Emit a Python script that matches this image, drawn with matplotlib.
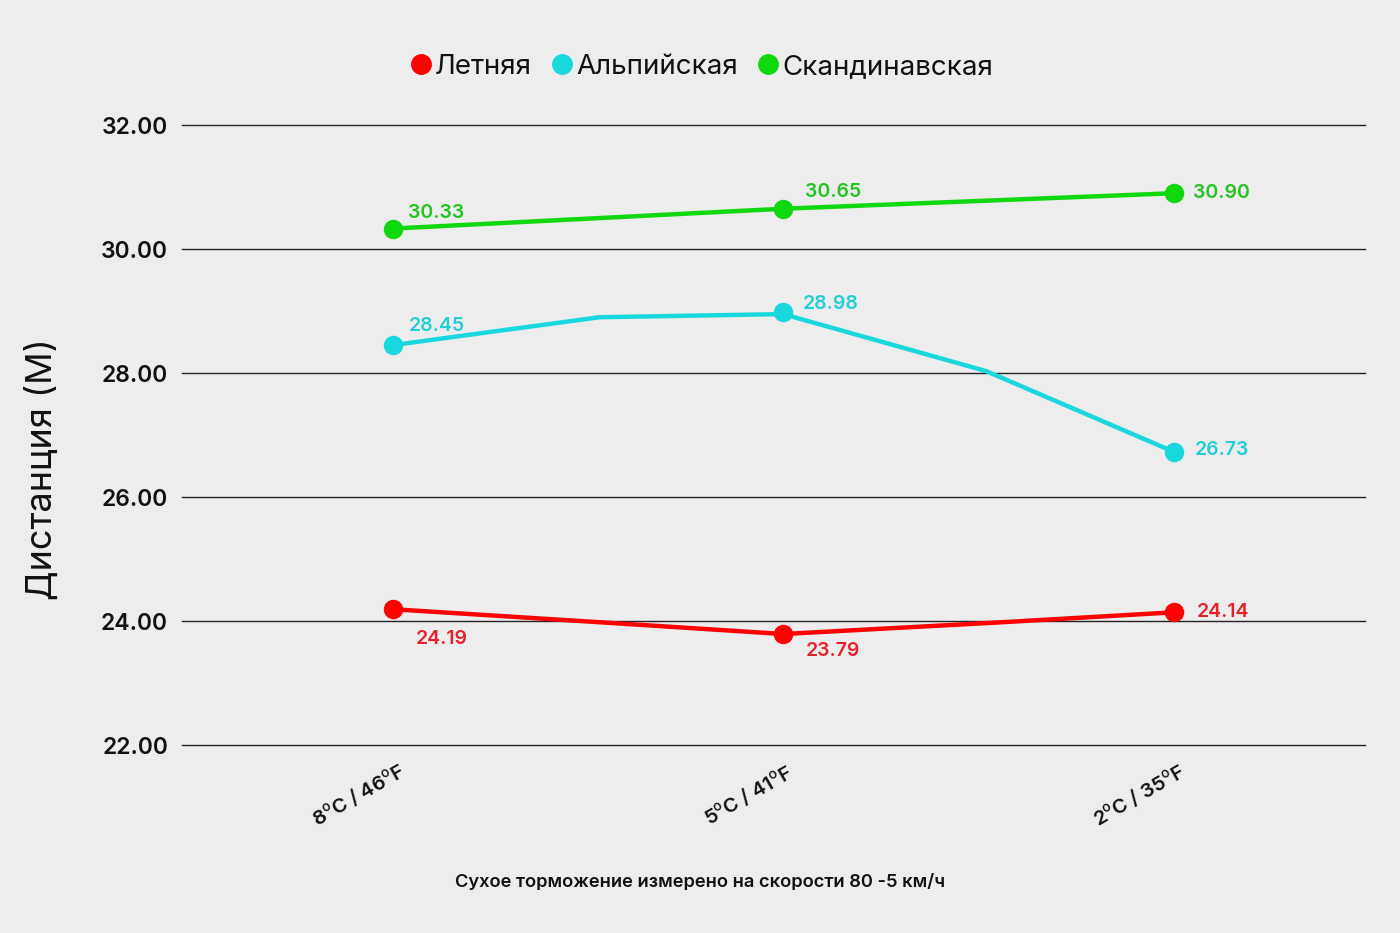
import matplotlib
matplotlib.use("Agg")
import matplotlib.pyplot as plt
import matplotlib.transforms as mtransforms
from matplotlib.lines import Line2D

plt.rcParams['font.family'] = ['Inter', 'DejaVu Sans']
plt.rcParams['mathtext.fontset'] = 'custom'
plt.rcParams['mathtext.rm'] = 'Inter:medium'
plt.rcParams['mathtext.it'] = 'Inter:italic'

# ---- data ----
categories = ["8$^{\\mathrm{o}}$C / 46$^{\\mathrm{o}}$F",
              "5$^{\\mathrm{o}}$C / 41$^{\\mathrm{o}}$F",
              "2$^{\\mathrm{o}}$C / 35$^{\\mathrm{o}}$F"]
series_names = ["Летняя", "Альпийская", "Скандинавская"]
summer = [24.19, 23.79, 24.14]
alpine = [28.45, 28.98, 26.73]
scandi = [30.33, 30.65, 30.90]
# intermediate line vertices as drawn in the picture (x in category units)
summer_path_x = [0, 0.53, 1, 1.56, 2]
summer_path_y = [24.19, 23.98, 23.79, 23.98, 24.14]
alpine_path_x = [0, 0.53, 1, 1.52, 2]
alpine_path_y = [28.45, 28.90, 28.95, 28.03, 26.73]
scandi_path_x = [0, 1, 2]
scandi_path_y = [30.33, 30.65, 30.90]
y_ticks = [22, 24, 26, 28, 30, 32]
y_label = "Дистанция (М)"
footer = "Сухое торможение измерено на скорости 80 -5 км/ч"

line_colors = ["#ff0000", "#18d8de", "#0fd80f"]
text_colors = ["#e3222b", "#22cfd6", "#22c422"]
# label offsets in pixels (dx, dy) per series per point
offsets = [
    [(49, -30), (50, -17), (49, 0)],
    [(44, 19), (47, 8), (48, 2)],
    [(43, 16), (50, 17), (48, 0)],
]

bg = "#ededed"
fig = plt.figure(figsize=(14, 9.33), dpi=100, facecolor=bg)
ax = fig.add_axes([0.13, 0.2015, 0.845, 0.6645])
ax.set_facecolor(bg)

paths = [(summer_path_x, summer_path_y), (alpine_path_x, alpine_path_y),
         (scandi_path_x, scandi_path_y)]
values = [summer, alpine, scandi]
xs = list(range(len(categories)))

for gy in y_ticks:
    ax.axhline(gy, color="#222222", lw=1.0, zorder=1, clip_on=False)

for i in range(3):
    px, py = paths[i]
    ax.plot(px, py, color=line_colors[i], lw=3.2, zorder=3, solid_capstyle='round')
    ax.plot(xs, values[i], 'o', color=line_colors[i], ms=13, zorder=4)
    for j, v in enumerate(values[i]):
        dx, dy = offsets[i][j]
        ax.annotate(f"{v:.2f}", (xs[j], v), xytext=(dx / 1.389, dy / 1.389),
                    textcoords='offset points', ha='center', va='center',
                    fontsize=14, color=text_colors[i], fontweight='semibold', zorder=5)

ax.set_xlim(-0.54, 2.49)
ax.set_ylim(22, 32)
ax.set_yticks(y_ticks)
ax.set_yticklabels([f"{t:.2f}" for t in y_ticks], fontsize=16.5, color="#111111",
                   fontweight='semibold')
ax.tick_params(axis='y', length=0, pad=10)
ax.set_xticks([])
for s in ax.spines.values():
    s.set_visible(False)

# rotated category labels
trans = mtransforms.blended_transform_factory(ax.transData, ax.transAxes)
for j, c in enumerate(categories):
    off = mtransforms.ScaledTranslation(-35 / 100, -50 / 100, fig.dpi_scale_trans)
    ax.text(j, 0, c, transform=trans + off, rotation=30, ha='center', va='center',
            rotation_mode='anchor', fontsize=14.5, color="#111111", fontweight='semibold')

fig.text(42 / 1400, 1 - 469 / 933, y_label, rotation=90, ha='center', va='center',
         fontsize=26, color="#111111")
fig.text(700 / 1400, 1 - 882 / 933, footer, ha='center', va='center',
         fontsize=13.2, color="#111111", fontweight='semibold')

handles = [Line2D([0], [0], marker='o', color='none', markerfacecolor=line_colors[i],
                  markeredgecolor=line_colors[i], markersize=14) for i in range(3)]
leg = fig.legend(handles, series_names, loc='center', bbox_to_anchor=(700 / 1400, 1 - 67 / 933),
                 ncol=3, frameon=False, fontsize=20, handletextpad=0.0, columnspacing=0.6,
                 handlelength=1.0)
for t in leg.get_texts():
    t.set_color("#111111")

fig.savefig("out.png", dpi=100, facecolor=bg)
